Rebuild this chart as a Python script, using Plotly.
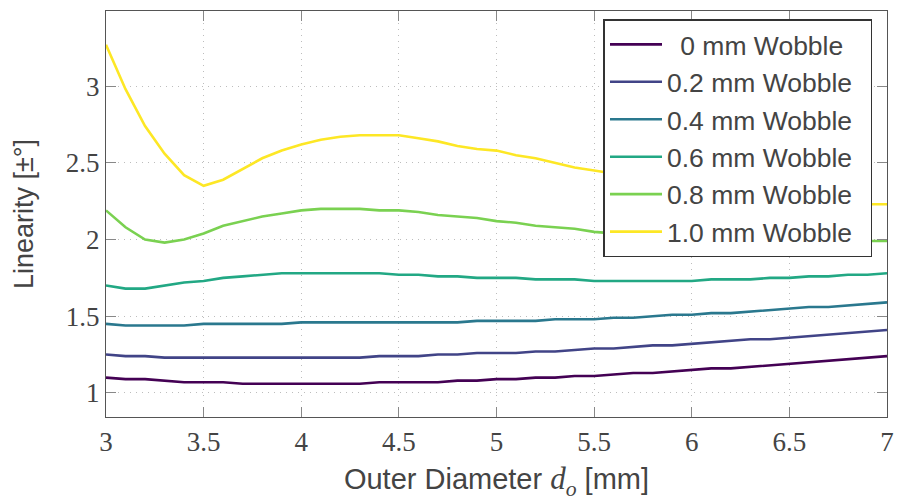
import plotly.graph_objects as go

x_mm = [round(3 + 0.1 * i, 1) for i in range(41)]

wobble_labels = ["\u20020 mm Wobble\u2002", "0.2 mm Wobble\u2002", "0.4 mm Wobble\u2002",
                 "0.6 mm Wobble\u2002", "0.8 mm Wobble\u2002", "1.0 mm Wobble\u2002"]
colors = ["#440154", "#414487", "#2a788e", "#22a884", "#7ad151", "#fde725"]

w00 = [1.10, 1.09, 1.09, 1.08, 1.07, 1.07, 1.07, 1.06, 1.06, 1.06,
       1.06, 1.06, 1.06, 1.06, 1.07, 1.07, 1.07, 1.07, 1.08, 1.08,
       1.09, 1.09, 1.10, 1.10, 1.11, 1.11, 1.12, 1.13, 1.13, 1.14,
       1.15, 1.16, 1.16, 1.17, 1.18, 1.19, 1.20, 1.21, 1.22, 1.23, 1.24]
w02 = [1.25, 1.24, 1.24, 1.23, 1.23, 1.23, 1.23, 1.23, 1.23, 1.23,
       1.23, 1.23, 1.23, 1.23, 1.24, 1.24, 1.24, 1.25, 1.25, 1.26,
       1.26, 1.26, 1.27, 1.27, 1.28, 1.29, 1.29, 1.30, 1.31, 1.31,
       1.32, 1.33, 1.34, 1.35, 1.35, 1.36, 1.37, 1.38, 1.39, 1.40, 1.41]
w04 = [1.45, 1.44, 1.44, 1.44, 1.44, 1.45, 1.45, 1.45, 1.45, 1.45,
       1.46, 1.46, 1.46, 1.46, 1.46, 1.46, 1.46, 1.46, 1.46, 1.47,
       1.47, 1.47, 1.47, 1.48, 1.48, 1.48, 1.49, 1.49, 1.50, 1.51,
       1.51, 1.52, 1.52, 1.53, 1.54, 1.55, 1.56, 1.56, 1.57, 1.58, 1.59]
w06 = [1.70, 1.68, 1.68, 1.70, 1.72, 1.73, 1.75, 1.76, 1.77, 1.78,
       1.78, 1.78, 1.78, 1.78, 1.78, 1.77, 1.77, 1.76, 1.76, 1.75,
       1.75, 1.75, 1.74, 1.74, 1.74, 1.73, 1.73, 1.73, 1.73, 1.73,
       1.73, 1.74, 1.74, 1.74, 1.75, 1.75, 1.76, 1.76, 1.77, 1.77, 1.78]
w08 = [2.19, 2.08, 2.00, 1.98, 2.00, 2.04, 2.09, 2.12, 2.15, 2.17,
       2.19, 2.20, 2.20, 2.20, 2.19, 2.19, 2.18, 2.16, 2.15, 2.14,
       2.12, 2.11, 2.09, 2.08, 2.07, 2.05, 2.04, 2.03, 2.02, 2.02,
       2.01, 2.01, 2.00, 2.00, 2.00, 1.99, 1.99, 1.99, 1.99, 1.99, 1.99]
w10 = [3.27, 2.98, 2.74, 2.56, 2.42, 2.35, 2.39, 2.46, 2.53, 2.58,
       2.62, 2.65, 2.67, 2.68, 2.68, 2.68, 2.66, 2.64, 2.61, 2.59,
       2.58, 2.55, 2.53, 2.50, 2.47, 2.45, 2.43, 2.41, 2.39, 2.37,
       2.35, 2.33, 2.32, 2.30, 2.29, 2.28, 2.26, 2.25, 2.24, 2.23, 2.23]

series = [w00, w02, w04, w06, w08, w10]

x_ticks = [3, 3.5, 4, 4.5, 5, 5.5, 6, 6.5, 7]
x_tick_text = ["3", "3.5", "4", "4.5", "5", "5.5", "6", "6.5", "7"]
y_ticks = [1, 1.5, 2, 2.5, 3]
y_tick_text = ["1", "1.5", "2", "2.5", "3"]

fig = go.Figure()
for name, col, vals in zip(wobble_labels, colors, series):
    fig.add_trace(go.Scatter(x=x_mm, y=vals, mode="lines", name=name,
                             line=dict(color=col, width=2.6)))

axis_common = dict(
    showline=True, linecolor="#555555", linewidth=1.3, mirror="ticks",
    ticks="inside", ticklen=10, tickcolor="#888888", tickwidth=1.2,
    showgrid=True, gridcolor="#bdbdbd", griddash="1px,5px", gridwidth=1.2,
    zeroline=False,
    tickfont=dict(family="Liberation Serif", size=27, color="#444444"),
)

fig.update_layout(
    width=901, height=501,
    margin=dict(l=106, r=7, t=11, b=81),
    paper_bgcolor="white", plot_bgcolor="white",
    font=dict(family="Liberation Sans", color="#444444"),
    xaxis=dict(range=[3, 7], tickvals=x_ticks, ticktext=x_tick_text,
               title=dict(text="Outer Diameter <span style=\"font-family:'Liberation Serif';font-size:31px\"><i>d<sub>o</sub></i></span> [mm]",
                          font=dict(size=29, color="#444444"), standoff=17),
               **axis_common),
    yaxis=dict(range=[0.843, 3.49], tickvals=y_ticks, ticktext=y_tick_text,
               title=dict(text="Linearity [±°]", font=dict(size=27, color="#444444"),
                          standoff=24),
               **axis_common),
    legend=dict(x=0.637, y=0.98, xanchor="left", yanchor="top",
                bgcolor="white", bordercolor="#333333", borderwidth=1.5,
                font=dict(family="Liberation Sans", size=26.5, color="#444444"),
                tracegroupgap=0, itemwidth=52),
    showlegend=True,
)

fig.write_html("out.html")
